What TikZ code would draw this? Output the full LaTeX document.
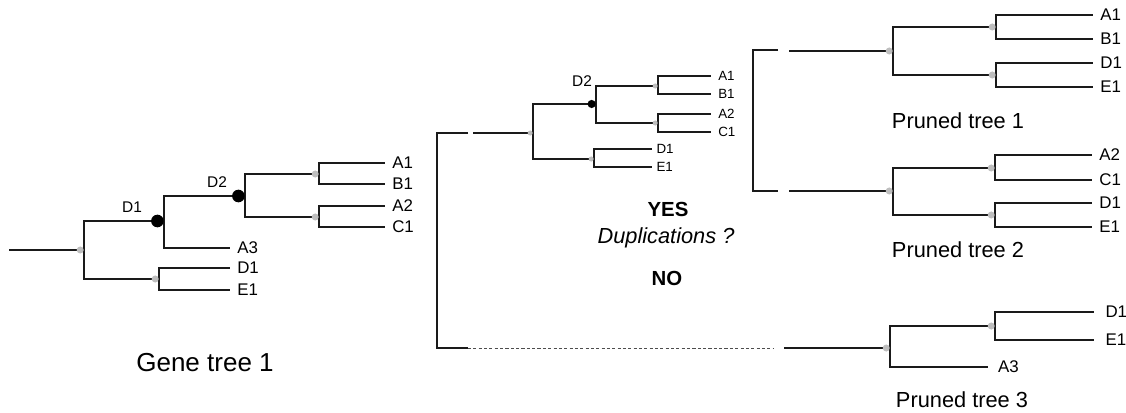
\documentclass[tikz,border=0pt]{standalone}
\usepackage{fontspec}
\setmainfont{Liberation Sans}
\usetikzlibrary{positioning}
\definecolor{ink}{HTML}{1A1A1A}
\definecolor{specgrey}{HTML}{BEBEBE}
\definecolor{dashgrey}{HTML}{4D4D4D}

\begin{document}
\begin{tikzpicture}[x=0.025cm,y=-0.025cm,
  branch/.style={line width=1pt,ink},
  spec/.style={circle,fill=specgrey,inner sep=0pt,minimum size=5pt},
  dup/.style={circle,fill=black,inner sep=0pt,minimum size=9pt},
  leaf/.style={anchor=west,inner xsep=5pt,inner ysep=0pt,font=\fontsize{12}{13}\selectfont},
  dupname/.style={font=\fontsize{11}{12}\selectfont},
  title/.style={font=\fontsize{15.5}{18}\selectfont}]
  \useasboundingbox (0,0) rectangle (1126,413);

  % gene tree 1
  \coordinate (g root) at (9,250);
  \coordinate (g0) at (84,250);
  \coordinate (g d1) at (164,221);
  \coordinate (g d2) at (245,196);
  \coordinate (g ab) at (319,174);
  \coordinate (g ac) at (319,217);
  \coordinate (g de) at (159,279);
  \node[leaf] (g a1) at (385,163) {A1};
  \node[leaf] (g b1) at (385,184) {B1};
  \node[leaf] (g a2) at (385,206) {A2};
  \node[leaf] (g c1) at (385,227) {C1};
  \node[leaf] (g a3) at (230,248) {A3};
  \node[leaf] (g dd) at (230,268) {D1};
  \node[leaf] (g e1) at (230,290) {E1};
  \draw[branch] (g root) -- (g0);
  \draw[branch] (g0) |- (g d1) (g0) |- (g de);
  \draw[branch] (g d1) |- (g d2) (g d1) |- (g a3.west);
  \draw[branch] (g d2) |- (g ab) (g d2) |- (g ac);
  \draw[branch] (g ab) |- (g a1.west) (g ab) |- (g b1.west);
  \draw[branch] (g ac) |- (g a2.west) (g ac) |- (g c1.west);
  \draw[branch] (g de) |- (g dd.west) (g de) |- (g e1.west);
  \node[spec,left=0pt of g0] (g0 dot) {};
  \node[spec,left=0pt of g de] (g de dot) {};
  \node[spec,left=0pt of g ab] (g ab dot) {};
  \node[spec,left=0pt of g ac] (g ac dot) {};
  \node[dup,left=0pt of g d1] (g d1 dot) {};
  \node[dup,left=0pt of g d2] (g d2 dot) {};
  \node[dupname] (g d1 name) at (132,207) {D1};
  \node[dupname] (g d2 name) at (217,182) {D2};
  \node[title,font=\fontsize{18.5}{21}\selectfont] (g title) at (205,363) {Gene tree 1};

  % gene tree 1 with its duplication
  \begin{scope}[branch/.append style={line width=0.85pt},
    spec/.append style={minimum size=3.6pt},
    dup/.append style={minimum size=5.8pt},
    leaf/.append style={font=\fontsize{9.5}{10}\selectfont}]
  \coordinate (m top end) at (468,133);
  \coordinate (m top) at (437,133);
  \coordinate (m bot) at (437,348);
  \coordinate (m bot end) at (468,348);
  \coordinate (m root) at (473,133);
  \coordinate (m0) at (533,133);
  \coordinate (m d2) at (596,104);
  \coordinate (m ab) at (658,86);
  \coordinate (m ac) at (658,123);
  \coordinate (m de) at (594,159);
  \node[leaf] (m a1) at (711,76) {A1};
  \node[leaf] (m bb) at (711,94) {B1};
  \node[leaf] (m a2) at (711,114) {A2};
  \node[leaf] (m c1) at (711,132) {C1};
  \node[leaf,inner xsep=3pt] (m dd) at (652,149) {D1};
  \node[leaf,inner xsep=3pt] (m e1) at (652,167) {E1};
  \draw[branch] (m top end) -- (m top) -- (m bot) -- (m bot end);
  \draw[branch] (m root) -- (m0);
  \draw[branch] (m0) |- (m d2) (m0) |- (m de);
  \draw[branch] (m d2) |- (m ab) (m d2) |- (m ac);
  \draw[branch] (m ab) |- (m a1.west) (m ab) |- (m bb.west);
  \draw[branch] (m ac) |- (m a2.west) (m ac) |- (m c1.west);
  \draw[branch] (m de) |- (m dd.west) (m de) |- (m e1.west);
  \node[spec,left=0pt of m0] (m0 dot) {};
  \node[spec,left=0pt of m ab] (m ab dot) {};
  \node[spec,left=0pt of m ac] (m ac dot) {};
  \node[spec,left=0pt of m de] (m de dot) {};
  \node[dup,left=0pt of m d2] (m d2 dot) {};
  \node[dupname] (m d2 name) at (582,81) {D2};
  \end{scope}

  \node[font=\fontsize{14.5}{16}\selectfont\bfseries] (yes) at (668,209) {YES};
  \node[font=\fontsize{15.5}{17}\selectfont\itshape] (question) at (666,238) {Duplications ?};
  \node[font=\fontsize{14.5}{16}\selectfont\bfseries] (no) at (667,278) {NO};

  % split into pruned trees
  \coordinate (r top end) at (778,50);
  \coordinate (r top) at (753,50);
  \coordinate (r bot) at (753,191);
  \coordinate (r bot end) at (778,191);
  \draw[branch] (r top end) -- (r top) -- (r bot) -- (r bot end);

  % pruned tree 1
  \coordinate (p1 root) at (789,51);
  \coordinate (p1) at (893,51);
  \coordinate (p1 ab) at (996,27);
  \coordinate (p1 de) at (996,75);
  \node[leaf] (p1 a1) at (1093,15) {A1};
  \node[leaf] (p1 b1) at (1093,39) {B1};
  \node[leaf] (p1 dd) at (1093,63) {D1};
  \node[leaf] (p1 e1) at (1093,87) {E1};
  \draw[branch] (p1 root) -- (p1);
  \draw[branch] (p1) |- (p1 ab) (p1) |- (p1 de);
  \draw[branch] (p1 ab) |- (p1 a1.west) (p1 ab) |- (p1 b1.west);
  \draw[branch] (p1 de) |- (p1 dd.west) (p1 de) |- (p1 e1.west);
  \node[spec,left=0pt of p1] (p1 dot) {};
  \node[spec,left=0pt of p1 ab] (p1 ab dot) {};
  \node[spec,left=0pt of p1 de] (p1 de dot) {};
  \node[title] (p1 title) at (958,121) {Pruned tree 1};

  % pruned tree 2
  \coordinate (p2 root) at (789,191);
  \coordinate (p2) at (893,191);
  \coordinate (p2 ac) at (995,168);
  \coordinate (p2 de) at (995,215);
  \node[leaf] (p2 a2) at (1092,155) {A2};
  \node[leaf] (p2 c1) at (1092,180) {C1};
  \node[leaf] (p2 dd) at (1092,203) {D1};
  \node[leaf] (p2 e1) at (1092,227) {E1};
  \draw[branch] (p2 root) -- (p2);
  \draw[branch] (p2) |- (p2 ac) (p2) |- (p2 de);
  \draw[branch] (p2 ac) |- (p2 a2.west) (p2 ac) |- (p2 c1.west);
  \draw[branch] (p2 de) |- (p2 dd.west) (p2 de) |- (p2 e1.west);
  \node[spec,left=0pt of p2] (p2 dot) {};
  \node[spec,left=0pt of p2 ac] (p2 ac dot) {};
  \node[spec,left=0pt of p2 de] (p2 de dot) {};
  \node[title] (p2 title) at (958,250) {Pruned tree 2};

  % pruned tree 3
  \coordinate (p3 in) at (774,348);
  \coordinate (p3 root) at (784,348);
  \coordinate (p3) at (890,348);
  \coordinate (p3 de) at (995,326);
  \node[leaf,inner xsep=8pt] (p3 dd) at (1094,312) {D1};
  \node[leaf,inner xsep=8pt] (p3 e1) at (1094,340) {E1};
  \node[leaf,inner xsep=7pt] (p3 a3) at (988,367) {A3};
  \draw[line width=0.7pt,dashgrey,dash pattern=on 2.2pt off 1.6pt] (m bot end) -- (p3 in);
  \draw[branch] (p3 root) -- (p3);
  \draw[branch] (p3) |- (p3 de) (p3) |- (p3 a3.west);
  \draw[branch] (p3 de) |- (p3 dd.west) (p3 de) |- (p3 e1.west);
  \node[spec,left=0pt of p3] (p3 dot) {};
  \node[spec,left=0pt of p3 de] (p3 de dot) {};
  \node[title] (p3 title) at (962,400) {Pruned tree 3};
\end{tikzpicture}
\end{document}
